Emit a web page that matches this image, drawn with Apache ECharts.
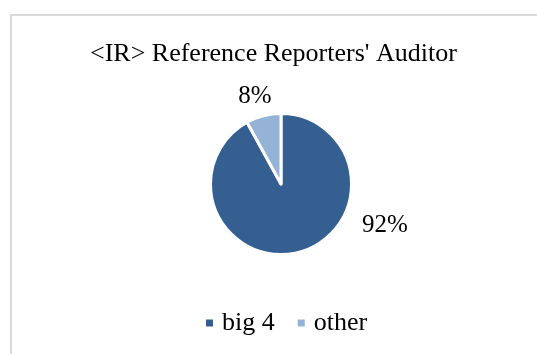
<!DOCTYPE html>
<html>
<head>
<meta charset="utf-8">
<script src="https://cdn.jsdelivr.net/npm/echarts@6/dist/echarts.min.js"></script>
<style>
  html, body { margin: 0; padding: 0; background: #ffffff; }
  #chart { width: 537px; height: 354px; }
</style>
</head>
<body>
<div id="chart"></div>
<script>
// Auditor share among reference reporters
const categories = ['big 4', 'other'];
const shares = [92, 8];
const sliceColors = ['#365F91', '#95B3D7'];
const titleText = "<IR> Reference Reporters' Auditor";

const SERIF = '"Liberation Serif", "Times New Roman", serif';

// label anchor points for each slice (big 4 label sits right, other above)
const labelSpots = [
  { x: 385, y: 225 },
  { x: 255, y: 96 }
];

const chart = echarts.init(document.getElementById('chart'), null, { renderer: 'canvas' });

chart.setOption({
  backgroundColor: '#ffffff',
  animation: false,
  title: {
    text: titleText,
    left: 90,
    top: 41,
    padding: 0,
    textStyle: { fontFamily: SERIF, fontSize: 26, fontWeight: 'normal', color: '#000000' }
  },
  legend: {
    data: categories,
    left: 204,
    top: 310,
    padding: 0,
    icon: 'rect',
    itemWidth: 9,
    itemHeight: 9,
    itemGap: 21,
    textStyle: { fontFamily: SERIF, fontSize: 26, color: '#000000', padding: [0, 0, 0, 3] }
  },
  graphic: [{
    type: 'rect',
    shape: { x: 11, y: 15, width: 600, height: 400 },
    style: { fill: 'none', stroke: '#D9D9D9', lineWidth: 2 },
    silent: true,
    z: -1
  }],
  series: [{
    type: 'pie',
    center: [281, 184],
    radius: 70.5,
    startAngle: 90,
    clockwise: true,
    percentPrecision: 0,
    data: categories.map((name, i) => ({
      name: name,
      value: shares[i],
      itemStyle: { color: sliceColors[i] }
    })),
    itemStyle: { borderColor: '#ffffff', borderWidth: 3 },
    label: {
      show: true,
      position: 'outside',
      formatter: '{d}%',
      fontFamily: SERIF,
      fontSize: 25,
      color: '#000000'
    },
    labelLine: { show: false },
    labelLayout: function (params) {
      const p = labelSpots[params.dataIndex];
      return { x: p.x, y: p.y, align: 'center', verticalAlign: 'middle' };
    },
    emphasis: { disabled: true }
  }]
});
</script>
</body>
</html>
